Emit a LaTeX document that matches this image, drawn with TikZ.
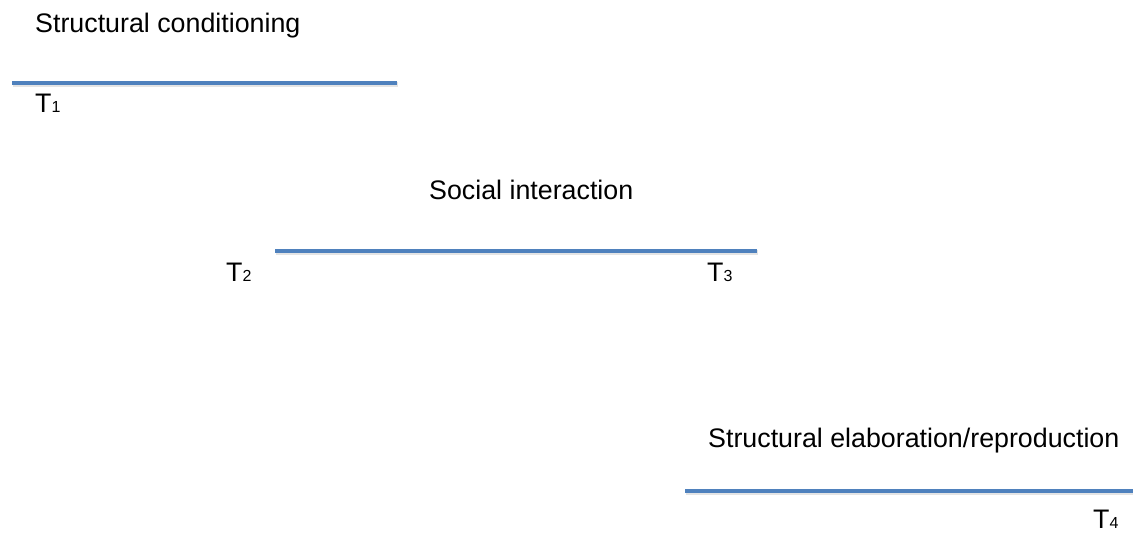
\documentclass[tikz,border=0pt]{standalone}
\usepackage{fontspec}
\setmainfont{Liberation Sans}
\usepackage{tikz}

\definecolor{barblue}{RGB}{79,129,189}
\newcommand{\tsub}[1]{T{\fontsize{16}{16}\selectfont #1}}

\begin{document}
\begin{tikzpicture}[x=1pt,y=1pt,yscale=-1,xscale=1,
  bar/.style={color=barblue,line width=4.5pt},
  barshadow/.style={color=black!30,line width=5pt,opacity=0.35},
  lbl/.style={anchor=base west,inner sep=0pt,font=\fontsize{26.8}{30}\selectfont}]
%set diagram left start at 0, and has height of 534
\useasboundingbox (0,0) rectangle (1133,534);

%Straight Lines 
\coordinate (aS) at (12,83);
\coordinate (aE) at (397,83);
\coordinate (bS) at (275,251);
\coordinate (bE) at (757,251);
\coordinate (cS) at (685,491);
\coordinate (cE) at (1133,491);
\draw [barshadow] ([shift={(1,1.8)}]aS) -- ([shift={(1,1.8)}]aE);
\draw [barshadow] ([shift={(1,1.8)}]bS) -- ([shift={(1,1.8)}]bE);
\draw [barshadow] ([shift={(1,1.8)}]cS) -- ([shift={(1,1.8)}]cE);
\draw [bar] (aS) -- (aE);
\draw [bar] (bS) -- (bE);
\draw [bar] (cS) -- (cE);

% Text Node
\node [lbl] (cond) at (35,33) {Structural conditioning};
% Text Node
\node [lbl] (t1) at (35,113) {\tsub{1}};
% Text Node
\node [lbl] (inter) at (429,200) {Social interaction};
% Text Node
\node [lbl] (t2) at (226,282) {\tsub{2}};
% Text Node
\node [lbl] (t3) at (707,282) {\tsub{3}};
% Text Node
\node [lbl] (elab) at (708,448) {Structural elaboration/reproduction};
% Text Node
\node [lbl] (t4) at (1093,529) {\tsub{4}};

\end{tikzpicture}
\end{document}
